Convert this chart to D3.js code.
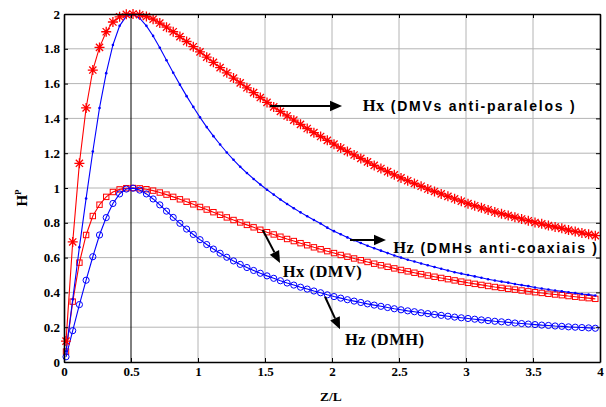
<!DOCTYPE html>
<html>
<head>
<meta charset="utf-8">
<script src="https://cdn.jsdelivr.net/npm/d3@7"></script>
<style>
  html, body { margin: 0; padding: 0; background: #fff; }
  svg { display: block; }
</style>
</head>
<body>
<script>
// Sampling grid along Z/L (first sample and spacing)
const zStart = 0.015;
const zStep = 0.05;

// Hx (DMV) — red squares
const hxDMV = [
  0.060, 0.347, 0.571, 0.730, 0.839, 0.904, 0.949, 0.977, 0.992, 0.999,
  1.000, 0.998, 0.993, 0.985, 0.974, 0.962, 0.949, 0.935, 0.921, 0.906,
  0.891, 0.876, 0.861, 0.846, 0.831, 0.816, 0.802, 0.788, 0.774, 0.760,
  0.746, 0.733, 0.720, 0.707, 0.695, 0.683, 0.671, 0.659, 0.648, 0.637,
  0.626, 0.615, 0.605, 0.595, 0.585, 0.575, 0.565, 0.556, 0.547, 0.538,
  0.529, 0.521, 0.513, 0.505, 0.497, 0.490, 0.483, 0.476, 0.469, 0.462,
  0.455, 0.449, 0.443, 0.437, 0.431, 0.426, 0.421, 0.416, 0.411, 0.406,
  0.401, 0.397, 0.392, 0.388, 0.384, 0.379, 0.375, 0.371, 0.367, 0.363
];

// Hx (DMVs anti-paralelos) — red asterisks
const hxDMVanti = [
  0.120, 0.690, 1.142, 1.460, 1.678, 1.808, 1.898, 1.954, 1.984, 1.998,
  2.000, 1.996, 1.986, 1.970, 1.948, 1.924, 1.898, 1.870, 1.842, 1.812,
  1.782, 1.752, 1.722, 1.692, 1.662, 1.632, 1.604, 1.576, 1.548, 1.520,
  1.492, 1.466, 1.440, 1.414, 1.390, 1.366, 1.342, 1.318, 1.296, 1.274,
  1.252, 1.230, 1.210, 1.190, 1.170, 1.150, 1.130, 1.112, 1.094, 1.076,
  1.058, 1.042, 1.026, 1.010, 0.994, 0.980, 0.966, 0.952, 0.938, 0.924,
  0.910, 0.898, 0.886, 0.874, 0.862, 0.852, 0.842, 0.832, 0.822, 0.812,
  0.802, 0.794, 0.784, 0.776, 0.768, 0.758, 0.750, 0.742, 0.734, 0.726
];

// Hz (DMH) — blue circles
const hzDMH = [
  0.030, 0.180, 0.330, 0.470, 0.605, 0.730, 0.830, 0.911, 0.966, 0.994,
  0.999, 0.988, 0.966, 0.937, 0.903, 0.867, 0.831, 0.797, 0.764, 0.733,
  0.703, 0.675, 0.649, 0.625, 0.602, 0.581, 0.561, 0.543, 0.526, 0.510,
  0.495, 0.481, 0.467, 0.454, 0.442, 0.430, 0.419, 0.408, 0.398, 0.386,
  0.376, 0.367, 0.358, 0.350, 0.342, 0.334, 0.327, 0.320, 0.313, 0.306,
  0.300, 0.294, 0.289, 0.283, 0.278, 0.273, 0.268, 0.263, 0.258, 0.254,
  0.250, 0.246, 0.242, 0.238, 0.234, 0.231, 0.228, 0.224, 0.221, 0.218,
  0.215, 0.212, 0.210, 0.207, 0.205, 0.202, 0.200, 0.198, 0.196, 0.194
];

// Hz (DMHs anti-coaxiais) — blue line with dots
const hzDMHanti = [
  0.060, 0.360, 0.660, 0.940, 1.210, 1.460, 1.660, 1.822, 1.932, 1.988,
  1.998, 1.976, 1.932, 1.874, 1.806, 1.734, 1.662, 1.594, 1.528, 1.466,
  1.406, 1.350, 1.298, 1.250, 1.204, 1.162, 1.122, 1.086, 1.052, 1.020,
  0.990, 0.962, 0.934, 0.908, 0.884, 0.860, 0.838, 0.816, 0.796, 0.772,
  0.752, 0.734, 0.716, 0.700, 0.684, 0.668, 0.654, 0.640, 0.626, 0.612,
  0.600, 0.588, 0.578, 0.566, 0.556, 0.546, 0.536, 0.526, 0.516, 0.508,
  0.500, 0.492, 0.484, 0.476, 0.468, 0.462, 0.456, 0.448, 0.442, 0.436,
  0.428, 0.422, 0.417, 0.411, 0.406, 0.401, 0.396, 0.391, 0.387, 0.382
];

// Axis ticks and labels
const xTicks = [0, 0.5, 1, 1.5, 2, 2.5, 3, 3.5, 4];
const xTickLabels = ["0", "0.5", "1", "1.5", "2", "2.5", "3", "3.5", "4"];
const yTicks = [0, 0.2, 0.4, 0.6, 0.8, 1, 1.2, 1.4, 1.6, 1.8, 2];
const yTickLabels = ["0", "0.2", "0.4", "0.6", "0.8", "1", "1.2", "1.4", "1.6", "1.8", "2"];

const W = 606, H = 407;
const margin = { left: 64, right: 6, top: 14, bottom: 45 };

const svg = d3.select("body").append("svg")
  .attr("width", W).attr("height", H)
  .attr("viewBox", `0 0 ${W} ${H}`);

svg.append("rect").attr("width", W).attr("height", H).attr("fill", "#fff");

const x = d3.scaleLinear().domain([0, 4]).range([margin.left, W - margin.right]);
const y = d3.scaleLinear().domain([0, 2]).range([H - margin.bottom, margin.top]);

const z = hzDMH.map((_, i) => zStart + i * zStep);

// Grid
const grid = svg.append("g").attr("class", "grid");
grid.selectAll("line.h").data(yTicks.slice(1, -1)).join("line")
  .attr("x1", x(0)).attr("x2", x(4))
  .attr("y1", d => y(d)).attr("y2", d => y(d))
  .attr("stroke", "#b4b4b4").attr("stroke-width", 1);
grid.selectAll("line.v").data(xTicks.slice(1, -1)).join("line")
  .attr("y1", y(0)).attr("y2", y(2))
  .attr("x1", d => x(d)).attr("x2", d => x(d))
  .attr("stroke", d => d === 0.5 ? "#000" : "#b4b4b4")
  .attr("stroke-width", 1);

// Series
const red = "#ff0000", blue = "#0000ff";
const pts = vals => vals.map((v, i) => [z[i], v]);
const line = d3.line().x(d => x(d[0])).y(d => y(d[1]));

function drawLine(vals, color) {
  svg.append("path").datum(pts(vals))
    .attr("d", line).attr("fill", "none")
    .attr("stroke", color).attr("stroke-width", 1.1);
}

// Hx (DMV): squares
drawLine(hxDMV, red);
svg.append("g").selectAll("rect").data(pts(hxDMV)).join("rect")
  .attr("x", d => x(d[0]) - 2.7).attr("y", d => y(d[1]) - 2.7)
  .attr("width", 5.4).attr("height", 5.4)
  .attr("fill", "none").attr("stroke", red).attr("stroke-width", 1);

// Hz (DMH): circles
drawLine(hzDMH, blue);
svg.append("g").selectAll("circle").data(pts(hzDMH)).join("circle")
  .attr("cx", d => x(d[0])).attr("cy", d => y(d[1])).attr("r", 3.1)
  .attr("fill", "none").attr("stroke", blue).attr("stroke-width", 1);

// Hz (DMHs anti-coaxiais): line with dots
drawLine(hzDMHanti, blue);
svg.append("g").selectAll("circle").data(pts(hzDMHanti)).join("circle")
  .attr("cx", d => x(d[0])).attr("cy", d => y(d[1])).attr("r", 1.3)
  .attr("fill", blue);

// Hx (DMVs anti-paralelos): asterisks
drawLine(hxDMVanti, red);
const star = "M-5,0H5M0,-5V5M-3.6,-3.6L3.6,3.6M-3.6,3.6L3.6,-3.6";
svg.append("g").selectAll("path").data(pts(hxDMVanti)).join("path")
  .attr("transform", d => `translate(${x(d[0])},${y(d[1])})`)
  .attr("d", star).attr("fill", "none")
  .attr("stroke", red).attr("stroke-width", 1.3);

// Axes (ticks pointing inward, box around plot)
const tickFont = "'Liberation Serif', 'Times New Roman', serif";
function styleAxis(g) {
  g.select(".domain").attr("stroke", "#000").attr("stroke-width", 1.6);
  g.selectAll(".tick line").attr("stroke", "#000").attr("stroke-width", 1);
  g.selectAll(".tick text")
    .attr("font-family", tickFont).attr("font-weight", "bold")
    .attr("font-size", 13).attr("fill", "#000");
}
svg.append("g").attr("transform", `translate(0,${y(0)})`)
  .call(d3.axisBottom(x).tickValues(xTicks).tickFormat((d, i) => xTickLabels[i])
    .tickSizeInner(-4).tickSizeOuter(0).tickPadding(5))
  .call(styleAxis);
svg.append("g").attr("transform", `translate(${x(0)},0)`)
  .call(d3.axisLeft(y).tickValues(yTicks).tickFormat((d, i) => yTickLabels[i])
    .tickSizeInner(-4).tickSizeOuter(0).tickPadding(4))
  .call(styleAxis);
svg.append("g").attr("transform", `translate(0,${y(2)})`)
  .call(d3.axisTop(x).tickValues(xTicks).tickFormat("")
    .tickSizeInner(-4).tickSizeOuter(0))
  .call(styleAxis);
svg.append("g").attr("transform", `translate(${x(4)},0)`)
  .call(d3.axisRight(y).tickValues(yTicks).tickFormat("")
    .tickSizeInner(-4).tickSizeOuter(0))
  .call(styleAxis);

// Axis titles
svg.append("text")
  .attr("x", x(2) - 1).attr("y", 401)
  .attr("text-anchor", "middle")
  .attr("font-family", tickFont).attr("font-weight", "bold").attr("font-size", 13.5)
  .text("Z/L");
const yTitle = svg.append("text")
  .attr("transform", `translate(27,${y(1) + 10}) rotate(-90)`)
  .attr("text-anchor", "middle")
  .attr("font-family", tickFont).attr("font-weight", "bold").attr("font-size", 15);
yTitle.append("tspan").text("H");
yTitle.append("tspan").attr("dy", -6).attr("font-size", 9).text("P");

// Annotations: arrows (data coordinates) and labels
const serif = "'Liberation Serif', 'Times New Roman', serif";
const sans = "'Liberation Sans', Arial, sans-serif";
const notes = [
  { from: [1.537, 1.471], to: [2.075, 1.471], at: [2.229, 1.442],
    head: "Hx", rest: "(DMVs anti-paralelos )", sansRest: true },
  { from: [2.134, 0.701], to: [2.403, 0.701], at: [2.457, 0.626],
    head: "Hz", rest: "(DMHs anti-coaxiais )", sansRest: true },
  { from: [1.483, 0.759], to: [1.612, 0.569], at: [1.632, 0.491],
    head: "Hx", rest: "(DMV)", sansRest: false },
  { from: [1.948, 0.375], to: [2.060, 0.188], at: [2.097, 0.095],
    head: "Hz", rest: "(DMH)", sansRest: false }
];

const ann = svg.append("g");
notes.forEach(n => {
  const x1 = x(n.from[0]), y1 = y(n.from[1]);
  const x2 = x(n.to[0]), y2 = y(n.to[1]);
  const ang = Math.atan2(y2 - y1, x2 - x1);
  const len = 12, half = 5.3;
  const bx = x2 - len * Math.cos(ang), by = y2 - len * Math.sin(ang);
  ann.append("line")
    .attr("x1", x1).attr("y1", y1).attr("x2", bx).attr("y2", by)
    .attr("stroke", "#000").attr("stroke-width", 2);
  ann.append("path")
    .attr("d", `M${x2},${y2}L${bx - half * Math.sin(ang)},${by + half * Math.cos(ang)}L${bx + half * Math.sin(ang)},${by - half * Math.cos(ang)}Z`)
    .attr("fill", "#000");

  const t = ann.append("text")
    .attr("x", x(n.at[0])).attr("y", y(n.at[1]))
    .attr("font-weight", "bold").attr("fill", "#000");
  if (n.sansRest) {
    t.append("tspan").attr("font-family", serif).attr("font-size", 16.5)
      .attr("letter-spacing", 0.5).text(n.head);
    t.append("tspan").attr("dx", 6).attr("font-family", sans).attr("font-size", 14)
      .attr("letter-spacing", 1.75).text(n.rest);
  } else {
    t.attr("font-family", serif).attr("font-size", 16.5).attr("letter-spacing", 0.5)
      .text(n.head + " " + n.rest);
  }
});
</script>
</body>
</html>
